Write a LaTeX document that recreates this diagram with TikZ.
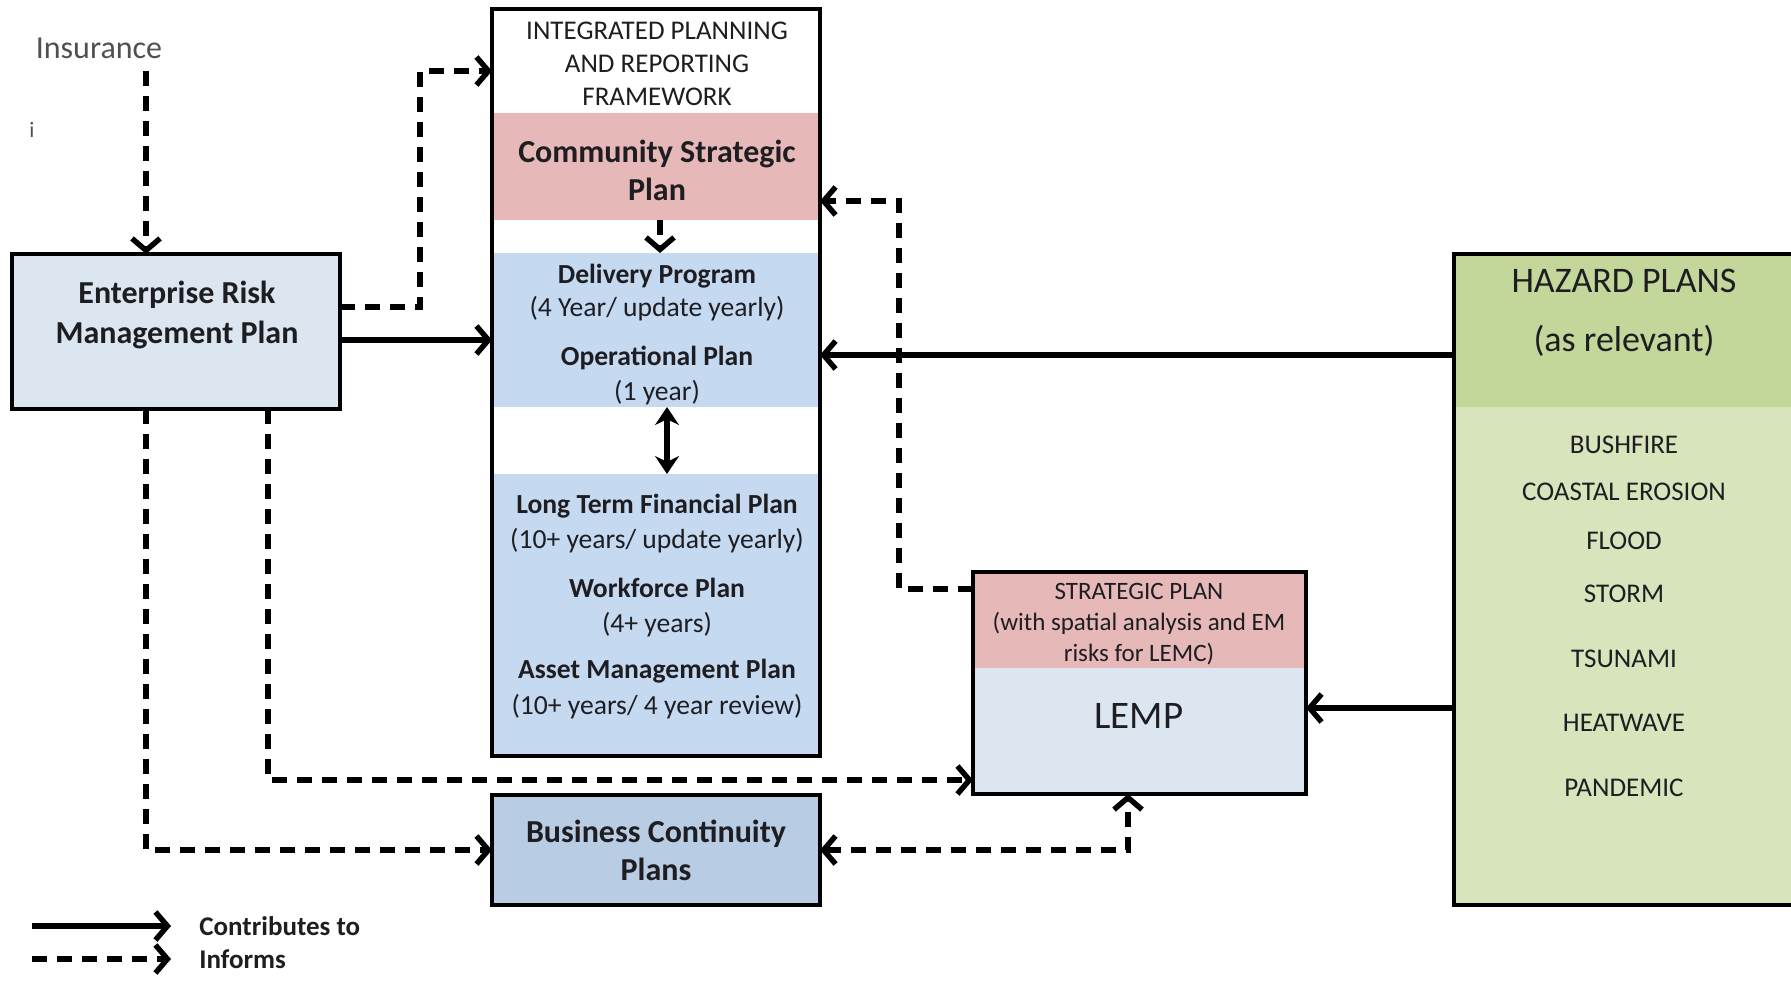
\documentclass[tikz,border=0pt]{standalone}
\usepackage{fontspec}
\setmainfont{Carlito}
\usetikzlibrary{arrows.meta}
\definecolor{pinkband}{RGB}{230,184,183}
\definecolor{blueband}{RGB}{197,217,241}
\definecolor{paleblue}{RGB}{220,230,241}
\definecolor{bcpblue}{RGB}{184,204,228}
\definecolor{hazhead}{RGB}{196,215,155}
\definecolor{hazbody}{RGB}{216,228,188}
\definecolor{ink}{RGB}{30,30,34}
\definecolor{softink}{RGB}{80,80,84}
\begin{document}
\begin{tikzpicture}[x=0.5pt,y=-0.5pt,
  box/.style={draw=black, line width=1.85pt, inner sep=0pt, outer sep=0pt, anchor=north west},
  band/.style={inner sep=0pt, outer sep=0pt, anchor=north west},
  lbl/.style={text=ink, inner sep=0pt, align=center},
  contrib/.style={line width=2.7pt, -{Straight Barb[length=6pt,width=14pt]}},
  inform/.style={contrib, dash pattern=on 7.5pt off 5pt},
  bothways/.style={line width=2.7pt, dash pattern=on 7.5pt off 5pt,
    {Straight Barb[length=6pt,width=14pt]}-{Straight Barb[length=6pt,width=14pt]}},
  twoway/.style={line width=2.7pt, {Stealth[length=9pt,width=12pt]}-{Stealth[length=9pt,width=12pt]}},
]
\useasboundingbox (0,0) rectangle (1791,980);
\fill[white] (0,0) rectangle (1791,980);

% ---------- boxes ----------
\node[box, fill=paleblue, minimum width=164pt, minimum height=77.5pt] (erm) at (12,254) {};
\node[box, fill=white, minimum width=164pt, minimum height=373.5pt] (ipr) at (492,9) {};
\node[band, fill=pinkband, minimum width=162.15pt, minimum height=53.5pt] (csp) at (493.85,113) {};
\node[band, fill=blueband, minimum width=162.15pt, minimum height=77pt] (dp) at (493.85,253) {};
\node[band, fill=blueband, minimum width=162.15pt, minimum height=140pt] (ltfp) at (493.85,474) {};
\node[box, fill=bcpblue, minimum width=164pt, minimum height=55pt] (bcp) at (492,795) {};
\node[box, fill=paleblue, minimum width=166.5pt, minimum height=111pt] (lemp) at (973,572) {};
\node[band, fill=pinkband, minimum width=164.65pt, minimum height=47pt] (lempband) at (974.85,573.85) {};
\node[box, fill=hazbody, minimum width=173pt, minimum height=325.5pt] (haz) at (1454,254) {};
\node[band, fill=hazhead, minimum width=172pt, minimum height=75.5pt] (hazband) at (1455.85,255.85) {};

% ---------- texts ----------
\node[lbl, text=softink, font=\fontsize{16}{19}\selectfont] (ins) at (99,48) {Insurance};
\node[lbl, text=softink, font=\fontsize{11}{13}\selectfont] (mark) at (32,130) {i};
\node[lbl, font=\bfseries\fontsize{16}{20}\selectfont] (ermtxt) at (177,315) {Enterprise Risk\\Management Plan};

\node[lbl, font=\fontsize{13.5}{16.5}\selectfont] (iprhead) at (657,64) {INTEGRATED PLANNING\\AND REPORTING\\FRAMEWORK};
\node[lbl, font=\bfseries\fontsize{16}{19}\selectfont] (csptxt) at (657,170) {Community Strategic\\Plan};
\node[lbl, font=\fontsize{13.8}{16.5}\selectfont] (dptxt) at (657,293) {\textbf{Delivery Program}\\(4 Year/ update yearly)};
\node[lbl, font=\fontsize{13.8}{17.5}\selectfont] (optxt) at (657,376) {\textbf{Operational Plan}\\(1 year)};
\node[lbl, font=\fontsize{13.8}{17.5}\selectfont] (ltfptxt) at (657,524) {\textbf{Long Term Financial Plan}\\(10+ years/ update yearly)};
\node[lbl, font=\fontsize{13.8}{17.5}\selectfont] (wptxt) at (657,608) {\textbf{Workforce Plan}\\(4+ years)};
\node[lbl, font=\fontsize{13.8}{18}\selectfont] (amptxt) at (657,689) {\textbf{Asset Management Plan}\\(10+ years/ 4 year review)};

\node[lbl, font=\bfseries\fontsize{16}{19}\selectfont] (bcptxt) at (656,850) {Business Continuity\\Plans};

\node[lbl, font=\fontsize{12.5}{15.5}\selectfont] (lemphead) at (1139,624) {STRATEGIC PLAN\\(with spatial analysis and EM\\risks for LEMC)};
\node[lbl, font=\fontsize{19.5}{22}\selectfont] (lemptxt) at (1139,716) {LEMP};

\node[lbl, font=\fontsize{18}{21}\selectfont] (hazt1) at (1624,281) {HAZARD PLANS};
\node[lbl, font=\fontsize{18}{21}\selectfont] (hazt2) at (1624,341) {(as relevant)};
\begin{scope}[every node/.style={lbl, font=\fontsize{13.5}{16}\selectfont}]
  \node (hz1) at (1624,445) {BUSHFIRE};
  \node (hz2) at (1624,492) {COASTAL EROSION};
  \node (hz3) at (1624,541) {FLOOD};
  \node (hz4) at (1624,594) {STORM};
  \node (hz5) at (1624,659) {TSUNAMI};
  \node (hz6) at (1624,723) {HEATWAVE};
  \node (hz7) at (1624,788) {PANDEMIC};
\end{scope}

% ---------- connectors ----------
\coordinate (insdrop) at (146,71);
\draw[inform] (insdrop) -- (insdrop |- erm.north);

\coordinate (ermup) at (420,71);
\draw[inform] (erm.east |- 0,307) -- (ermup |- 0,307) -- (ermup) -- (ermup -| ipr.west);
\draw[contrib] (erm.east |- 0,340) -- (ipr.west |- 0,340);

\draw[inform] (erm.south -| 146,0) |- (bcp.west);
\draw[inform] (erm.south -| 268,0) |- (lemp.west |- 0,780);

\draw[inform] (csp.south -| 660,0) -- (dp.north -| 660,0);
\draw[twoway] (dp.south -| 667,0) -- (ltfp.north -| 667,0);

\coordinate (lempup) at (899,201);
\draw[inform] (lemp.west |- 0,589) -- (lempup |- 0,589) -- (lempup) -- (ipr.east |- lempup);

\draw[contrib] (haz.west |- 0,355) -- (ipr.east |- 0,355);
\draw[contrib] (haz.west |- 0,708) -- (lemp.east |- 0,708);

\draw[bothways] (bcp.east) -| (lemp.south -| 1128,0);

% ---------- legend ----------
\coordinate (lgAa) at (32,926);
\coordinate (lgAb) at (171,926);
\coordinate (lgBa) at (32,959);
\coordinate (lgBb) at (171,959);
\draw[contrib] (lgAa) -- (lgAb);
\draw[inform] (lgBa) -- (lgBb);
\node[lbl, anchor=west, font=\bfseries\fontsize{13.5}{16}\selectfont] (lgAt) at (199,926) {Contributes to};
\node[lbl, anchor=west, font=\bfseries\fontsize{13.5}{16}\selectfont] (lgBt) at (199,959) {Informs};
\end{tikzpicture}
\end{document}
